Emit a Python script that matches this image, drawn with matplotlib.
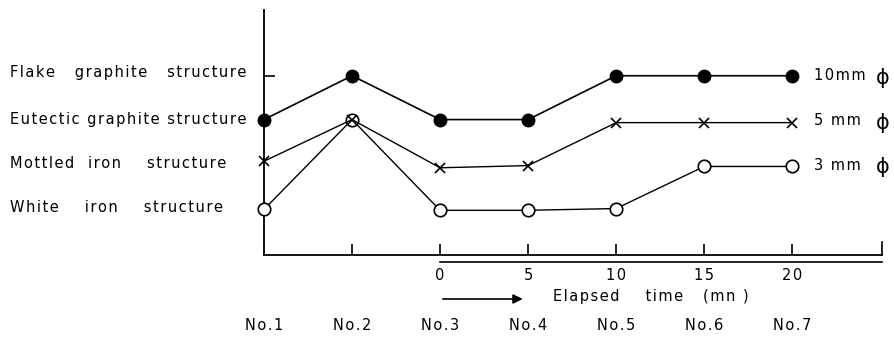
import matplotlib
matplotlib.use('Agg')
import matplotlib.pyplot as plt
import matplotlib.transforms as mtransforms

# Data
samples = ['No.1', 'No.2', 'No.3', 'No.4', 'No.5', 'No.6', 'No.7']
times = ['0', '5', '10', '15', '20']
structures = ['White    iron    structure', 'Mottled  iron    structure',
              'Eutectic graphite structure', 'Flake   graphite   structure']
d10 = [3.0, 4.0, 3.0, 3.0, 4.0, 4.0, 4.0]
d5 = [2.05, 3.0, 1.9, 1.95, 2.93, 2.93, 2.93]
d3 = [0.95, 3.0, 0.93, 0.93, 0.97, 1.93, 1.93]
labels = ['10mm', '5 mm', '3 mm']


def spaced(s):
    # wide letter spacing like the old lettering
    return '\u200a'.join(s)


plt.rcParams['font.family'] = 'DejaVu Sans'
fig = plt.figure(figsize=(8.94, 3.38), dpi=100)
ax = fig.add_axes([264/894, 1-255/338, 618/894, 245/338])

x = list(range(len(samples)))
ax.plot(x, d3, '-o', color='black', lw=1.0, ms=9, mfc='white', mew=1.2, clip_on=False, zorder=3)
ax.plot(x, d5, '-x', color='black', lw=1.0, ms=7, mew=1.2, clip_on=False, zorder=4)
ax.plot(x, d10, '-o', color='black', lw=1.2, ms=9, clip_on=False, zorder=5)

ax.set_xlim(0, 7.02)
ax.set_ylim(-0.09, 5.5)
ax.spines['top'].set_visible(False)
ax.spines['right'].set_visible(False)
for s in ['left', 'bottom']:
    ax.spines[s].set_linewidth(1.3)

ax.set_xticks([1, 2, 3, 4, 5, 6])
ax.set_xticklabels([])
ax.set_yticks([4])
ax.set_yticklabels([])
ax.tick_params(direction='in', length=8, width=1.2)
# end tick at right
ax.plot([7.02, 7.02], [-0.09, 0.2], color='black', lw=1.2, clip_on=False)

# time axis line
ax.plot([2, 7.02], [-0.25, -0.25], color='black', lw=1.2, clip_on=False)

bx = mtransforms.blended_transform_factory(ax.transData, fig.transFigure)
for i, t in enumerate(times):
    ax.text(2 + i, 1 - 276/338, spaced(t), transform=bx, ha='center', va='center', fontsize=10.5)
for i, s in enumerate(samples):
    ax.text(i, 1 - 325/338, spaced(s), transform=bx, ha='center', va='center', fontsize=10.5)

ax.annotate('', xy=(2.97, 1 - 299/338), xytext=(2, 1 - 299/338),
            xycoords=bx, textcoords=bx,
            arrowprops=dict(arrowstyle='-|>', color='black', lw=1.2, mutation_scale=14))
ax.text(3.28, 1 - 297/338, spaced('Elapsed    time   (mn )'), transform=bx,
        ha='left', va='center', fontsize=10.5)

by = mtransforms.blended_transform_factory(fig.transFigure, ax.transData)
ypos = [1.0, 2.0, 3.0, 4.07]
for s, y in zip(structures, ypos):
    ax.text(10/894, y, spaced(s), transform=by, ha='left', va='center', fontsize=10.5)

for lab, y in zip(labels, [4.0, 2.98, 1.96]):
    ax.text(6.25, y, spaced(lab), ha='left', va='center', fontsize=10.5, clip_on=False)
    ax.text(7.03, y - 0.05, '\u03d5', ha='center', va='center', fontsize=15, clip_on=False)

fig.savefig('out.png', dpi=100)
